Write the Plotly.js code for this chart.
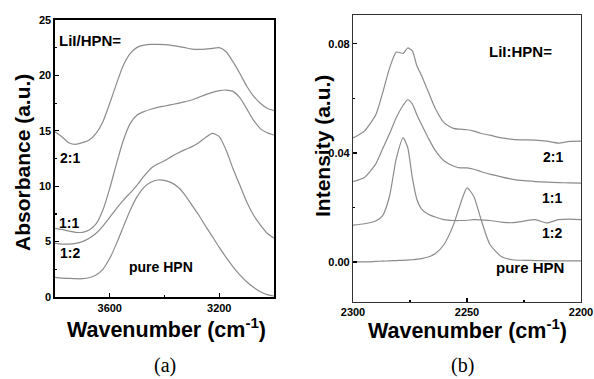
<!DOCTYPE html>
<html>
<head>
<meta charset="utf-8">
<script src="https://cdn.plot.ly/plotly-3.0.1.min.js"></script>
<style>html,body{margin:0;padding:0;background:#fff;}#chart{width:594px;height:379px;}</style>
</head>
<body>
<div id="chart"></div>
<script>
// Panel (a): FTIR absorbance, O-H stretching region
const wavenumberA = [3800,3775,3750,3725,3700,3675,3650,3625,3600,3575,3550,3525,3500,3475,3450,3425,3400,3375,3350,3325,3300,3275,3250,3225,3200,3175,3150,3125,3100,3075,3050,3025,3000];
const absPure = [1.77,1.71,1.68,1.65,1.65,1.74,1.99,2.5,3.49,4.84,6.35,7.85,9.06,9.9,10.35,10.56,10.53,10.32,9.9,9.2,8.3,7.4,6.4,5.45,4.48,3.58,2.74,1.99,1.38,0.87,0.48,0.21,0.09];
const abs12 = [4.84,4.78,4.78,4.84,5.0,5.3,5.75,6.4,7.19,8.0,8.75,9.4,10.1,10.9,11.6,12.0,12.3,12.67,13.0,13.3,13.57,13.93,14.4,14.77,14.47,13.27,11.6,10.1,8.6,7.4,6.5,5.75,5.3];
const abs11 = [6.2,6.1,5.96,5.84,5.84,6.05,6.59,7.85,9.8,12.06,14.17,15.67,16.43,16.73,16.94,17.12,17.24,17.36,17.48,17.63,17.78,18.02,18.26,18.47,18.62,18.68,18.56,18.0,17.0,15.97,15.2,14.83,14.62];
const abs21 = [14.92,14.47,13.93,13.78,13.93,14.17,14.77,15.82,17.48,19.28,20.94,21.99,22.53,22.74,22.8,22.8,22.77,22.71,22.62,22.5,22.38,22.35,22.38,22.44,22.5,22.14,21.24,20.19,19.04,18.14,17.48,17.03,16.82];

// Panel (b): Raman intensity, C≡N stretching region
const wavenumberB = [2300,2295,2290,2287,2284,2281,2278,2276,2274,2272,2270,2267,2264,2260,2256,2253,2250,2247,2244,2240,2235,2230,2225,2220,2215,2210,2205,2200];
const intPure = [0.0,0.0,0.0002,0.0003,0.0004,0.0005,0.0006,0.0007,0.0008,0.001,0.0012,0.0018,0.003,0.0065,0.0135,0.021,0.0272,0.024,0.016,0.0065,0.002,0.0008,0.0006,0.0005,0.0004,0.0004,0.0004,0.0004];
const int12 = [0.0135,0.014,0.015,0.017,0.024,0.038,0.0455,0.042,0.031,0.023,0.0195,0.0175,0.0165,0.0155,0.0152,0.0152,0.0153,0.0155,0.0154,0.0152,0.0146,0.0144,0.015,0.0155,0.0143,0.0155,0.0157,0.0155];
const int11 = [0.0295,0.031,0.036,0.0415,0.047,0.053,0.0575,0.0595,0.058,0.054,0.0505,0.0455,0.041,0.037,0.0352,0.0345,0.0345,0.034,0.0332,0.0322,0.0312,0.0303,0.0298,0.0295,0.0293,0.0291,0.029,0.0289];
const int21 = [0.0455,0.048,0.054,0.062,0.071,0.077,0.0765,0.0785,0.0775,0.072,0.0685,0.0625,0.0565,0.051,0.049,0.0487,0.0485,0.048,0.0472,0.0465,0.0455,0.045,0.0448,0.0447,0.0443,0.0436,0.0442,0.0443];

const W = 594, H = 379;
const px = v => v / W;
const py = v => 1 - v / H;
const lineStyle = {color: '#8c8c8c', width: 1.2, shape: 'spline', smoothing: 0.6};

const traces = [];
[absPure, abs12, abs11, abs21].forEach(ys => traces.push({x: wavenumberA, y: ys, type: 'scatter', mode: 'lines', line: lineStyle, xaxis: 'x', yaxis: 'y', showlegend: false, hoverinfo: 'skip'}));
[intPure, int12, int11, int21].forEach(ys => traces.push({x: wavenumberB, y: ys, type: 'scatter', mode: 'lines', line: lineStyle, xaxis: 'x2', yaxis: 'y2', showlegend: false, hoverinfo: 'skip'}));

const tickFont = {family: 'Liberation Sans, Arial, sans-serif', size: 11, color: '#000', weight: 'bold'};
const bold = size => ({family: 'Liberation Sans, Arial, sans-serif', size: size, color: '#000', weight: 'bold'});

const ann = (text, x, y, size, opts) => Object.assign({text: text, x: px(x), y: py(y), xref: 'paper', yref: 'paper', showarrow: false, font: bold(size), xanchor: 'center', yanchor: 'middle'}, opts || {});

const layout = {
  width: W, height: H,
  margin: {l: 0, r: 0, t: 0, b: 0},
  paper_bgcolor: '#fff', plot_bgcolor: '#fff',
  xaxis: {domain: [px(55), px(274)], range: [3800, 3000], tick0: 3200, dtick: 400, ticks: 'inside', ticklen: 4, tickwidth: 1.2, tickcolor: '#000',
    minor: {dtick: 200, ticks: 'inside', ticklen: 2, tickcolor: '#000'},
    showline: true, mirror: true, linecolor: '#000', linewidth: 1.6, showgrid: false, zeroline: false, tickfont: tickFont, anchor: 'y'},
  yaxis: {domain: [py(297), py(20)], range: [0, 25], dtick: 5, ticks: 'inside', ticklen: 4, tickwidth: 1.2, tickcolor: '#000',
    minor: {dtick: 2.5, ticks: 'inside', ticklen: 2, tickcolor: '#000'},
    showline: true, mirror: true, linecolor: '#000', linewidth: 1.6, showgrid: false, zeroline: false, tickfont: tickFont, anchor: 'x'},
  xaxis2: {domain: [px(353), px(581)], range: [2300, 2200], dtick: 50, ticks: 'inside', ticklen: 4, tickwidth: 1.2, tickcolor: '#000',
    minor: {dtick: 25, ticks: 'inside', ticklen: 2, tickcolor: '#000'},
    showline: true, mirror: true, linecolor: '#333', linewidth: 1.1, showgrid: false, zeroline: false, tickfont: tickFont, anchor: 'y2'},
  yaxis2: {domain: [py(302), py(15)], range: [-0.0147, 0.0906], dtick: 0.04, tick0: 0, tickformat: '.2f', ticks: 'inside', ticklen: 4, tickwidth: 1.2, tickcolor: '#000',
    minor: {dtick: 0.02, ticks: 'inside', ticklen: 2, tickcolor: '#000'},
    showline: true, mirror: true, linecolor: '#333', linewidth: 1.1, showgrid: false, zeroline: false, tickfont: tickFont, anchor: 'x2'},
  annotations: [
    ann('Wavenumber (cm<sup>-1</sup>)', 166, 328, 21.5),
    ann('Absorbance (a.u.)', 23, 163, 21, {textangle: -90}),
    ann('Wavenumber (cm<sup>-1</sup>)', 467, 329, 21.5),
    ann('Intensity (a.u.)', 322, 146, 21, {textangle: -90}),
    ann('LiI/HPN=', 57, 41, 15, {xanchor: 'left'}),
    ann('2:1', 70, 158, 14),
    ann('1:1', 69, 223, 14),
    ann('1:2', 70, 253, 14),
    ann('pure HPN', 161, 267, 14),
    ann('LiI:HPN=', 520, 52, 15),
    ann('2:1', 553, 157, 14),
    ann('1:1', 552, 198, 14),
    ann('1:2', 552, 233, 14),
    ann('pure HPN', 530, 267, 15),
    {text: '(a)', x: px(165), y: py(365), xref: 'paper', yref: 'paper', showarrow: false, xanchor: 'center', yanchor: 'middle', font: {family: 'Liberation Serif, Times New Roman, serif', size: 20, color: '#000'}},
    {text: '(b)', x: px(463), y: py(365), xref: 'paper', yref: 'paper', showarrow: false, xanchor: 'center', yanchor: 'middle', font: {family: 'Liberation Serif, Times New Roman, serif', size: 20, color: '#000'}}
  ]
};

Plotly.newPlot('chart', traces, layout, {staticPlot: true, displayModeBar: false});
</script>
</body>
</html>
